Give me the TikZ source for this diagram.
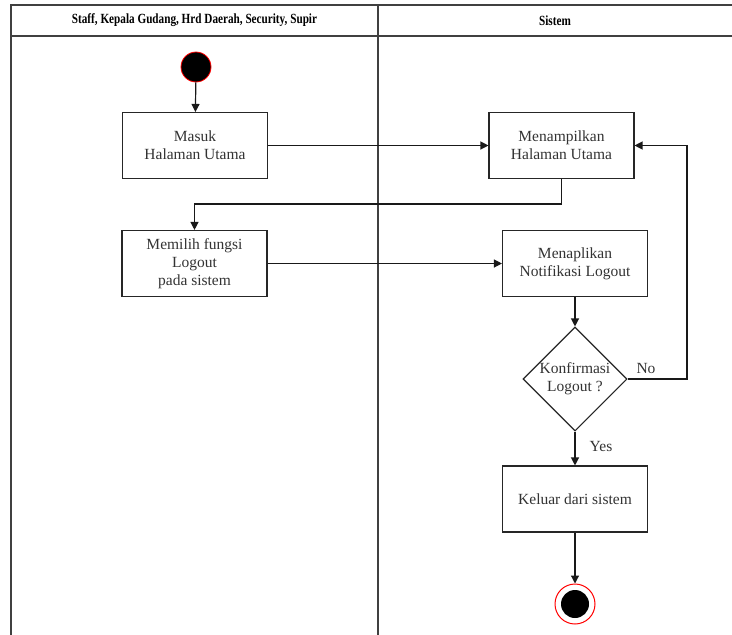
\documentclass[tikz,border=0pt]{standalone}
\usepackage{fontspec}
\setmainfont{Liberation Serif}
\newfontfamily\hdrfont[FakeStretch=0.8]{Liberation Serif}
\usetikzlibrary{shapes.geometric,arrows.meta}
\begin{document}
\begin{tikzpicture}[x=1pt,y=-1pt,
  every node/.style={font=\fontsize{15.5}{18}\selectfont, text=black!80},
  act/.style={draw=black!85, line width=1.1pt, fill=white, minimum width=145pt, minimum height=66pt, align=center, inner sep=2pt},
  dec/.style={draw=black!85, line width=1.1pt, fill=white, diamond, minimum width=104pt, minimum height=104pt, inner sep=0pt, align=center},
  flow/.style={draw=black!90, line width=1.2pt, -{Triangle[length=8pt,width=8pt]}},
  lane/.style={draw=black!75, line width=1.4pt}]
\useasboundingbox (0,0) rectangle (732,635);
% swimlane frame
\draw[lane] (732,5) -- (11,5) -- (11,635);
\draw[lane] (11,36) -- (732,36);
\draw[lane] (378,5) -- (378,635);
\node[font=\hdrfont\fontsize{14}{16}\selectfont\bfseries, text=black] (h1) at (194.5,20.5) {Staff, Kepala Gudang, Hrd Daerah, Security, Supir};
\node[font=\hdrfont\fontsize{14}{16}\selectfont\bfseries, text=black] (h2) at (555,20.5) {Sistem};
% nodes
\node[circle, fill=black, draw=red, line width=0.8pt, minimum size=30pt, inner sep=0pt] (start) at (196,67) {};
\node[act] (masuk) at (195,145.5) {Masuk\\Halaman Utama};
\node[act] (tampil) at (561.5,145.5) {Menampilkan\\Halaman Utama};
\node[act] (pilih) at (194.5,263.5) {Memilih fungsi\\Logout\\pada sistem};
\node[act] (notif) at (575,263.5) {Menaplikan\\Notifikasi Logout};
\node[dec] (konf) at (575,379) {Konfirmasi\\Logout ?};
\node[act] (keluar) at (575,499) {Keluar dari sistem};
\node[circle, draw=red, line width=1pt, fill=white, minimum size=40pt, inner sep=0pt] (end) at (575,604) {};
\node[circle, fill=black, minimum size=28pt, inner sep=0pt] (endin) at (575,604) {};
% connectors
\draw[flow] (start) -- (masuk);
\draw[flow] (masuk) -- (tampil);
\draw[flow] (tampil.south) |- (194.5,204) -- (pilih.north);
\draw[flow] (pilih.east) -- (notif.west);
\draw[flow] (notif) -- (konf);
\draw[flow] (konf.east) -- (687,379) |- (tampil.east);
\draw[flow] (konf) -- (keluar);
\draw[flow] (keluar) -- (end);
\node (no) at (646,368) {No};
\node (yes) at (601,446) {Yes};
\end{tikzpicture}
\end{document}
